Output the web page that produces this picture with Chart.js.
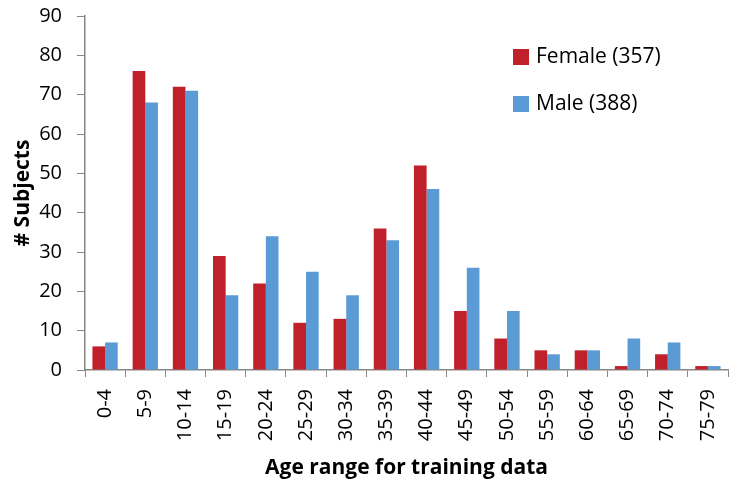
<!DOCTYPE html>
<html><head><meta charset="utf-8">
<script src="https://cdn.jsdelivr.net/npm/chart.js@4/dist/chart.umd.min.js"></script>
<style>html,body{margin:0;padding:0;background:#fff}#wrap{width:740px;height:497px}</style>
</head><body><div id="wrap"><canvas id="c" width="740" height="497"></canvas></div>
<script>
const categories = ["0-4","5-9","10-14","15-19","20-24","25-29","30-34","35-39","40-44","45-49","50-54","55-59","60-64","65-69","70-74","75-79"];
const female = [6,76,72,29,22,12,13,36,52,15,8,5,5,1,4,1];
const male = [7,68,71,19,34,25,19,33,46,26,15,4,5,8,7,1];
const seriesLabels = ["Female (357)","Male (388)"];
const yTicks = [0,10,20,30,40,50,60,70,80,90];

const FONT = "'Open Sans', 'Liberation Sans', sans-serif";
const legendPlugin = {
  id: 'customLegend',
  afterDraw(chart) {
    const ctx = chart.ctx;
    ctx.save();
    ctx.font = "21px " + FONT;
    ctx.textBaseline = 'middle';
    const items = chart.data.datasets;
    const ys = [57, 104];
    items.forEach((ds, i) => {
      ctx.fillStyle = ds.backgroundColor;
      ctx.fillRect(513, ys[i] - 8, 16, 16);
      ctx.fillStyle = '#000';
      ctx.fillText(ds.label, 536, ys[i]);
    });
    ctx.restore();
  }
};

new Chart(document.getElementById('c'), {
  type: 'bar',
  data: {
    labels: categories,
    datasets: [
      {label: seriesLabels[0], data: female, backgroundColor: '#C0202A', barPercentage: 1.0, categoryPercentage: 0.63},
      {label: seriesLabels[1], data: male, backgroundColor: '#5B9BD5', barPercentage: 1.0, categoryPercentage: 0.63}
    ]
  },
  options: {
    responsive: false,
    animation: false,
    layout: {autoPadding: false, padding: {left: 6, top: 16, right: 12, bottom: 12}},
    plugins: {legend: {display: false}, tooltip: {enabled: false}},
    scales: {
      x: {
        grid: {display: true, drawOnChartArea: false, drawTicks: true, tickLength: 7, color: '#868686', offset: true},
        border: {color: '#868686', width: 1.5},
        ticks: {color: '#000', font: {family: FONT, size: 20}, minRotation: 90, maxRotation: 90, padding: 12},
        title: {display: true, text: 'Age range for training data', color: '#000', font: {family: FONT, size: 21, weight: 'bold'}, padding: {top: 4}},
        afterFit(s) { s.height = 115; s.paddingLeft = 0; s.paddingRight = 0; }
      },
      y: {
        min: 0, max: 90,
        afterBuildTicks(s) { s.ticks = yTicks.map(v => ({value: v})); },
        grid: {display: true, drawOnChartArea: false, drawTicks: true, tickLength: 8, color: '#868686'},
        border: {color: '#868686', width: 1.5},
        ticks: {color: '#000', font: {family: FONT, size: 20}, padding: 15},
        title: {display: true, text: '# Subjects', color: '#000', font: {family: FONT, size: 21, weight: 'bold'}, padding: {bottom: 0}},
        afterFit(s) { s.width = 79; s.paddingTop = 0; s.paddingBottom = 0; }
      }
    }
  },
  plugins: [legendPlugin]
});
</script></body></html>
